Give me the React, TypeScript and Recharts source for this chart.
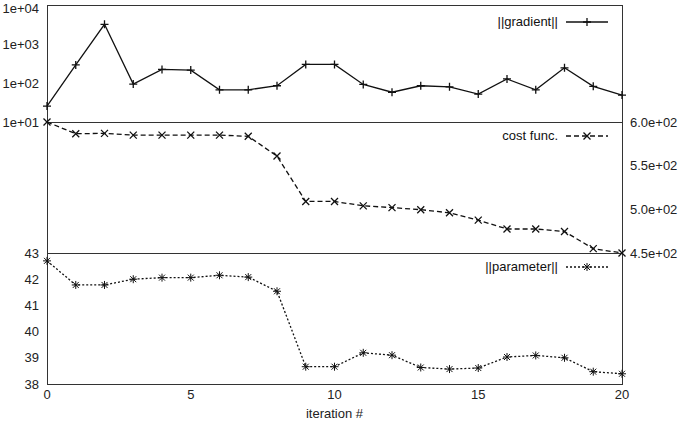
import React from "react";
import { LineChart, Line, XAxis, YAxis } from "recharts";

const iterations = [0, 1, 2, 3, 4, 5, 6, 7, 8, 9, 10, 11, 12, 13, 14, 15, 16, 17, 18, 19, 20];
const gradient = [25.6, 290, 3200, 94, 223, 214, 67, 67, 85, 300, 300, 92, 58, 85, 80, 52, 127, 67, 245, 82, 49];
const cost = [600, 586.6, 587, 585, 585, 585, 585, 583.6, 561, 509, 509, 504, 502, 499.6, 496, 487.6, 477.5, 477.5, 474.6, 455, 450];
const parameter = [42.7, 41.78, 41.78, 42.0, 42.06, 42.06, 42.15, 42.08, 41.54, 38.66, 38.66, 39.19, 39.1, 38.63, 38.57, 38.61, 39.03, 39.09, 39.0, 38.47, 38.39];

const gradTicks = [10, 100, 1000, 10000];
const costTicks = [450, 500, 550, 600];
const paramTicks = [38, 39, 40, 41, 42, 43];
const xTicks = [0, 5, 10, 15, 20];

const data = iterations.map((it, i) => ({
  it,
  gradient: gradient[i],
  cost: cost[i],
  parameter: parameter[i],
}));

const FONT = "'Liberation Sans', Arial, sans-serif";
const W = 684;
const H = 422;
const tickStyle = { fill: "#222", fontSize: 13, fontFamily: FONT };
const C = "#111";

const expFmt = (v: number) => {
  const e = Math.round(Math.log10(v));
  return "1e+" + String(e).padStart(2, "0");
};
const costFmt = (v: number) => (v / 100).toFixed(1) + "e+02";

const Plus = (p: any) => {
  const { cx, cy } = p;
  return (
    <path key={p.index} d={`M${cx - 4},${cy}H${cx + 4}M${cx},${cy - 4}V${cy + 4}`} stroke={C} strokeWidth={1.3} />
  );
};
const Cross = (p: any) => {
  const { cx, cy } = p;
  return (
    <path key={p.index} d={`M${cx - 3.5},${cy - 3.5}L${cx + 3.5},${cy + 3.5}M${cx - 3.5},${cy + 3.5}L${cx + 3.5},${cy - 3.5}`} stroke={C} strokeWidth={1.3} />
  );
};
const Star = (p: any) => {
  const { cx, cy } = p;
  return (
    <path
      key={p.index}
      d={`M${cx - 4},${cy}H${cx + 4}M${cx},${cy - 4}V${cy + 4}M${cx - 3},${cy - 3}L${cx + 3},${cy + 3}M${cx - 3},${cy + 3}L${cx + 3},${cy - 3}`}
      stroke={C}
      strokeWidth={1}
    />
  );
};

const LegendItem = ({ top, label, dash, mark }: any) => (
  <div
    style={{
      position: "absolute",
      top,
      right: W - 608,
      display: "flex",
      alignItems: "center",
      fontFamily: FONT,
      fontSize: 13,
      color: "#111",
    }}
  >
    <span style={{ marginRight: 8 }}>{label}</span>
    <svg width={42} height={12}>
      <line x1={0} y1={6} x2={42} y2={6} stroke={C} strokeWidth={1.3} strokeDasharray={dash} />
      {mark === "plus" && <path d="M17,6H25M21,2V10" stroke={C} strokeWidth={1.3} />}
      {mark === "cross" && <path d="M17.5,2.5L24.5,9.5M17.5,9.5L24.5,2.5" stroke={C} strokeWidth={1.3} />}
      {mark === "star" && <path d="M17,6H25M21,2V10M18,3L24,9M18,9L24,3" stroke={C} strokeWidth={1} />}
    </svg>
  </div>
);

const hline = (top: number) => (
  <div style={{ position: "absolute", left: 47, width: 575, top, height: 1, background: "#333" }} />
);

export default function App() {
  const abs: React.CSSProperties = { position: "absolute", left: 0, top: 0 };
  return (
    <div style={{ position: "absolute", left: 0, top: 0, width: W, height: H, background: "#fff", overflow: "hidden" }}>
      <div style={{ position: "absolute", left: 47, top: 5, width: 574, height: 378, border: "1px solid #333" }} />
      {hline(122)}
      {hline(253)}

      <div style={abs}>
        <LineChart width={W} height={H} data={data} margin={{ top: 5, right: 62, left: 0, bottom: 300 }}>
          <XAxis dataKey="it" type="number" domain={[0, 20]} ticks={xTicks} hide />
          <YAxis
            yAxisId="g"
            scale="log"
            domain={[10, 10000]}
            ticks={gradTicks}
            tickFormatter={expFmt}
            width={47}
            axisLine={false}
            tickLine={false}
            tick={tickStyle}
            tickMargin={2}
          />
          <Line yAxisId="g" dataKey="gradient" stroke={C} strokeWidth={1.3} dot={Plus} isAnimationActive={false} />
        </LineChart>
      </div>

      <div style={abs}>
        <LineChart width={W} height={H} data={data} margin={{ top: 122, right: 0, left: 47, bottom: 169 }}>
          <XAxis dataKey="it" type="number" domain={[0, 20]} ticks={xTicks} hide />
          <YAxis
            yAxisId="c"
            orientation="right"
            domain={[450, 600]}
            ticks={costTicks}
            tickFormatter={costFmt}
            width={62}
            axisLine={false}
            tickLine={false}
            tick={tickStyle}
            tickMargin={2}
          />
          <Line yAxisId="c" dataKey="cost" stroke={C} strokeWidth={1.3} strokeDasharray="5 3" dot={Cross} isAnimationActive={false} />
        </LineChart>
      </div>

      <div style={abs}>
        <LineChart width={W} height={H} data={data} margin={{ top: 253, right: 62, left: 0, bottom: 0 }}>
          <XAxis
            dataKey="it"
            type="number"
            domain={[0, 20]}
            ticks={xTicks}
            height={38}
            axisLine={false}
            tickLine={false}
            tick={tickStyle}
            tickMargin={0}
            label={{ value: "iteration #", position: "insideBottom", offset: 4, style: tickStyle }}
          />
          <YAxis
            yAxisId="p"
            domain={[38, 43]}
            ticks={paramTicks}
            width={47}
            axisLine={false}
            tickLine={false}
            tick={tickStyle}
            tickMargin={2}
          />
          <Line yAxisId="p" dataKey="parameter" stroke={C} strokeWidth={1.3} strokeDasharray="2 2" dot={Star} isAnimationActive={false} />
        </LineChart>
      </div>

      <LegendItem top={14} label="||gradient||" dash="" mark="plus" />
      <LegendItem top={128} label="cost func." dash="5 3" mark="cross" />
      <LegendItem top={259} label="||parameter||" dash="2 2" mark="star" />
    </div>
  );
}
